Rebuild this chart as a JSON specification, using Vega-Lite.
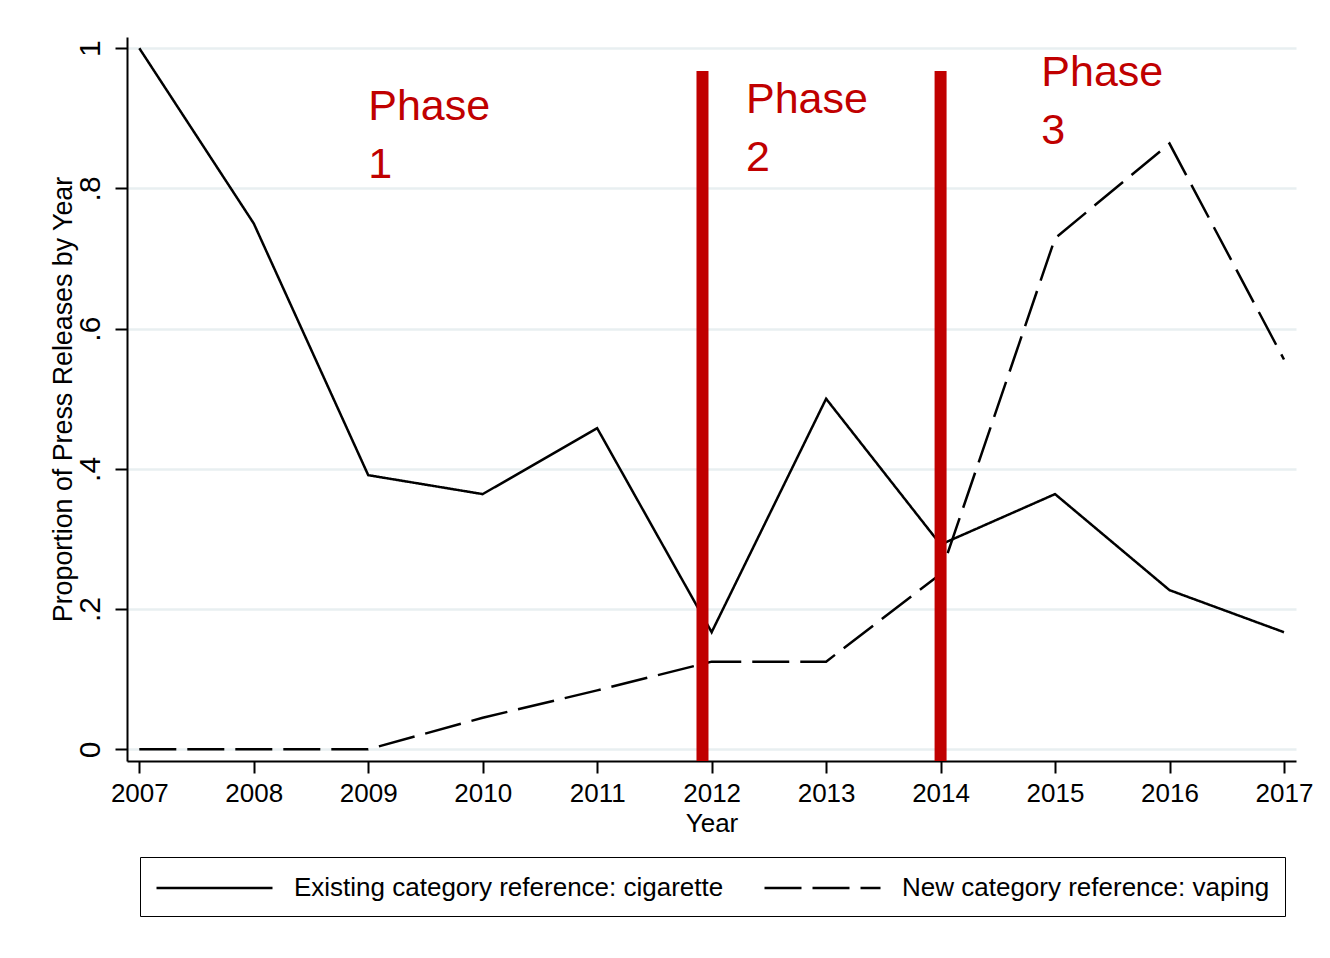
{
  "$schema": "https://vega.github.io/schema/vega-lite/v6.json",
  "width": 1169,
  "height": 724,
  "autosize": {"type": "none"},
  "padding": {"left": 127, "top": 37, "right": 34, "bottom": 197},
  "background": "white",
  "config": {
    "font": "Liberation Sans",
    "view": {"stroke": null},
    "axis": {"domainColor": "black", "domainWidth": 2, "tickColor": "black", "tickWidth": 2, "tickSize": 12, "labelColor": "black", "titleColor": "black", "titleFontWeight": "normal"}
  },
  "datasets": {
    "series": [
      {"year": 2007, "series": "Existing category reference: cigarette", "value": 1.0},
      {"year": 2008, "series": "Existing category reference: cigarette", "value": 0.75},
      {"year": 2009, "series": "Existing category reference: cigarette", "value": 0.391},
      {"year": 2010, "series": "Existing category reference: cigarette", "value": 0.364},
      {"year": 2011, "series": "Existing category reference: cigarette", "value": 0.458},
      {"year": 2012, "series": "Existing category reference: cigarette", "value": 0.167},
      {"year": 2013, "series": "Existing category reference: cigarette", "value": 0.5},
      {"year": 2014, "series": "Existing category reference: cigarette", "value": 0.292},
      {"year": 2015, "series": "Existing category reference: cigarette", "value": 0.364},
      {"year": 2016, "series": "Existing category reference: cigarette", "value": 0.227},
      {"year": 2017, "series": "Existing category reference: cigarette", "value": 0.167},
      {"year": 2007, "series": "New category reference: vaping", "value": 0},
      {"year": 2008, "series": "New category reference: vaping", "value": 0},
      {"year": 2009, "series": "New category reference: vaping", "value": 0},
      {"year": 2010, "series": "New category reference: vaping", "value": 0.045},
      {"year": 2011, "series": "New category reference: vaping", "value": 0.084},
      {"year": 2012, "series": "New category reference: vaping", "value": 0.125},
      {"year": 2013, "series": "New category reference: vaping", "value": 0.125},
      {"year": 2014, "series": "New category reference: vaping", "value": 0.25},
      {"year": 2015, "series": "New category reference: vaping", "value": 0.729},
      {"year": 2016, "series": "New category reference: vaping", "value": 0.864},
      {"year": 2017, "series": "New category reference: vaping", "value": 0.556}
    ],
    "phases": [
      {"year": 2011.92, "top": 0.9676, "bottom": -0.0167},
      {"year": 2014.0, "top": 0.9676, "bottom": -0.0167}
    ],
    "labels": [
      {"year": 2009.0, "value": 0.8977, "label": "Phase\n1"},
      {"year": 2012.3, "value": 0.908, "label": "Phase\n2"},
      {"year": 2014.88, "value": 0.946, "label": "Phase\n3"}
    ]
  },
  "layer": [
    {
      "data": {"name": "series"},
      "mark": {"type": "line", "color": "black", "strokeWidth": 2.5},
      "encoding": {
        "x": {
          "field": "year", "type": "quantitative",
          "scale": {"domain": [2006.8925, 2017.105], "nice": false, "zero": false},
          "axis": {
            "values": [2007, 2008, 2009, 2010, 2011, 2012, 2013, 2014, 2015, 2016, 2017],
            "format": "d", "grid": false,
            "labelFontSize": 26, "labelBaseline": "alphabetic", "labelPadding": 28,
            "labelFlush": false, "labelOverlap": false,
            "title": "Year", "titleFontSize": 26, "titleBaseline": "alphabetic",
            "titleX": 584.5, "titleY": 70, "titleAnchor": "middle"
          }
        },
        "y": {
          "field": "value", "type": "quantitative",
          "scale": {"domain": [-0.0167, 1.016], "nice": false, "zero": false},
          "axis": {
            "values": [0, 0.2, 0.4, 0.6, 0.8, 1],
            "labelExpr": "datum.value == 0 ? '0' : datum.value == 1 ? '1' : '.' + format(datum.value * 10, '.0f')",
            "grid": true, "gridColor": "#e8eff1", "gridWidth": 2.5,
            "labelFontSize": 30, "labelAngle": -90, "labelAlign": "center", "labelBaseline": "alphabetic", "labelPadding": 16,
            "labelFlush": false, "labelOverlap": false,
            "title": "Proportion of Press Releases by Year", "titleFontSize": 26.8,
            "titleAngle": -90, "titleBaseline": "alphabetic", "titleAlign": "center",
            "titleX": -56, "titleY": 362
          }
        },
        "strokeDash": {
          "field": "series", "type": "nominal",
          "scale": {"domain": ["Existing category reference: cigarette", "New category reference: vaping"], "range": [[1, 0], [37, 11]]},
          "legend": {
            "title": null, "orient": "none", "legendX": 13, "legendY": 820, "direction": "horizontal",
            "strokeColor": "black", "fillColor": "white", "padding": 15,
            "symbolType": "M-1,0H7", "symbolSize": 841, "symbolStrokeWidth": 2.5, "symbolStrokeColor": "black", "symbolFillColor": "transparent",
            "labelFontSize": 26, "labelColor": "black", "labelOffset": 107, "labelLimit": 0, "columnPadding": 35
          }
        }
      }
    },
    {
      "data": {"name": "phases"},
      "mark": {"type": "rule", "color": "#c00000", "strokeWidth": 12, "strokeCap": "butt"},
      "encoding": {
        "x": {"field": "year", "type": "quantitative"},
        "y": {"field": "top", "type": "quantitative"},
        "y2": {"field": "bottom"}
      }
    },
    {
      "data": {"name": "labels"},
      "mark": {"type": "text", "color": "#c00000", "fontSize": 43, "align": "left", "baseline": "alphabetic", "lineBreak": "\n", "lineHeight": 58},
      "encoding": {
        "x": {"field": "year", "type": "quantitative"},
        "y": {"field": "value", "type": "quantitative"},
        "text": {"field": "label"}
      }
    }
  ]
}
